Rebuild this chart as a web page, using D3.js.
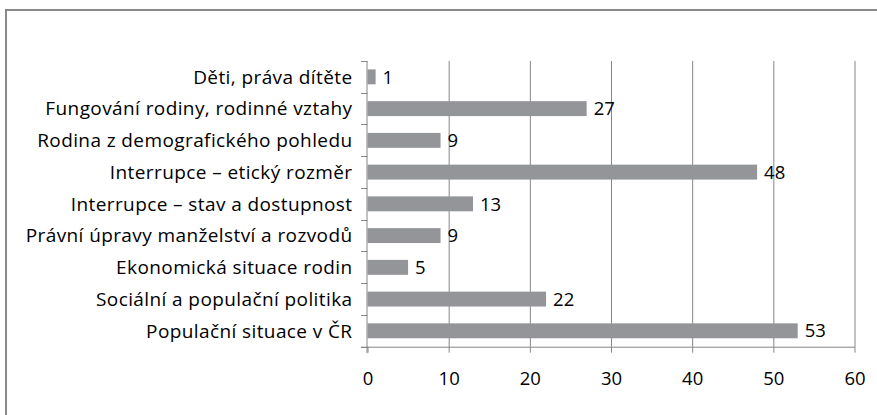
<!DOCTYPE html>
<html>
<head>
<meta charset="utf-8">
<script src="https://cdn.jsdelivr.net/npm/d3@7"></script>
<style>
  body { margin: 0; background: #fff; }
  text { font-family: "Open Sans", sans-serif; fill: #000; }
  .axis path, .axis line { stroke: #868686; }
</style>
</head>
<body>
<div class="chart"></div>
<script>
var svgWidth = 877;
var svgHeight = 415;

// chart data (top to bottom as shown)
var categories = [
  "Děti, práva dítěte",
  "Fungování rodiny, rodinné vztahy",
  "Rodina z demografického pohledu",
  "Interrupce – etický rozměr",
  "Interrupce – stav a dostupnost",
  "Právní úpravy manželství a rozvodů",
  "Ekonomická situace rodin",
  "Sociální a populační politika",
  "Populační situace v ČR"
];
var counts = [1, 27, 9, 48, 13, 9, 5, 22, 53];
var xTicks = [0, 10, 20, 30, 40, 50, 60];

var margin = { top: 61, left: 367.5, right: 22.5, bottom: 68.3 };
var width = svgWidth - margin.left - margin.right;
var height = svgHeight - margin.top - margin.bottom;

var svg = d3.select(".chart")
  .append("svg")
  .attr("width", svgWidth)
  .attr("height", svgHeight);

// outer frame (cut off at right and bottom)
svg.append("path")
  .attr("d", "M6,420V10H880")
  .attr("fill", "none")
  .attr("stroke", "#8a8a8a")
  .attr("stroke-width", 2);

var chartGroup = svg.append("g")
  .attr("transform", `translate(${margin.left}, ${margin.top})`);

var xScale = d3.scaleLinear()
  .domain([0, 60])
  .range([0, width]);

var yScale = d3.scaleBand()
  .domain(categories)
  .range([0, height])
  .paddingInner(0.53)
  .paddingOuter(0.265);

// vertical gridlines
chartGroup.selectAll(".grid")
  .data(xTicks.slice(1))
  .enter()
  .append("line")
  .attr("class", "grid")
  .attr("x1", d => xScale(d) + 0.5)
  .attr("x2", d => xScale(d) + 0.5)
  .attr("y1", 0)
  .attr("y2", height)
  .attr("stroke", "#868686");

// bars
chartGroup.selectAll(".bar")
  .data(counts)
  .enter()
  .append("rect")
  .attr("class", "bar")
  .attr("x", xScale(0))
  .attr("y", (d, i) => yScale(categories[i]))
  .attr("width", d => xScale(d) - xScale(0))
  .attr("height", yScale.bandwidth())
  .attr("fill", "#939598");

// value labels
chartGroup.selectAll(".value")
  .data(counts)
  .enter()
  .append("text")
  .attr("class", "value")
  .attr("x", d => xScale(d) + 7)
  .attr("y", (d, i) => yScale(categories[i]) + yScale.bandwidth() / 2)
  .attr("dy", "0.36em")
  .style("font-size", "18.5px")
  .text(d => d);

// x axis
var bottomAxis = d3.axisBottom(xScale)
  .tickValues(xTicks)
  .tickSize(6)
  .tickPadding(19)
  .tickSizeOuter(0);

var xAxis = chartGroup.append("g")
  .attr("class", "axis")
  .attr("transform", `translate(0, ${height})`)
  .call(bottomAxis);
xAxis.selectAll("text")
  .style("font-size", "18.5px")
  .style("font-family", "'Open Sans', sans-serif")
  .attr("fill", "#000");
xAxis.select(".domain").attr("d", `M-6.5,0.5H${width + 0.5}`);

// y axis: ticks at category boundaries
var step = yScale.step();
var boundaries = d3.range(categories.length + 1).map(i => i * step);

var yAxis = chartGroup.append("g").attr("class", "axis");
yAxis.append("line")
  .attr("x1", -0.5).attr("x2", -0.5)
  .attr("y1", 0).attr("y2", height + 6.5);
yAxis.selectAll(".ytick")
  .data(boundaries)
  .enter()
  .append("line")
  .attr("class", "ytick")
  .attr("x1", -6.5).attr("x2", 0)
  .attr("y1", d => Math.round(d) + 0.5)
  .attr("y2", d => Math.round(d) + 0.5);

// category labels
chartGroup.selectAll(".cat")
  .data(categories)
  .enter()
  .append("text")
  .attr("class", "cat")
  .attr("x", -15)
  .attr("y", d => yScale(d) + yScale.bandwidth() / 2)
  .attr("dy", "0.36em")
  .attr("text-anchor", "end")
  .style("font-size", "19px")
  .style("letter-spacing", "0.4px")
  .text(d => d);
</script>
</body>
</html>
